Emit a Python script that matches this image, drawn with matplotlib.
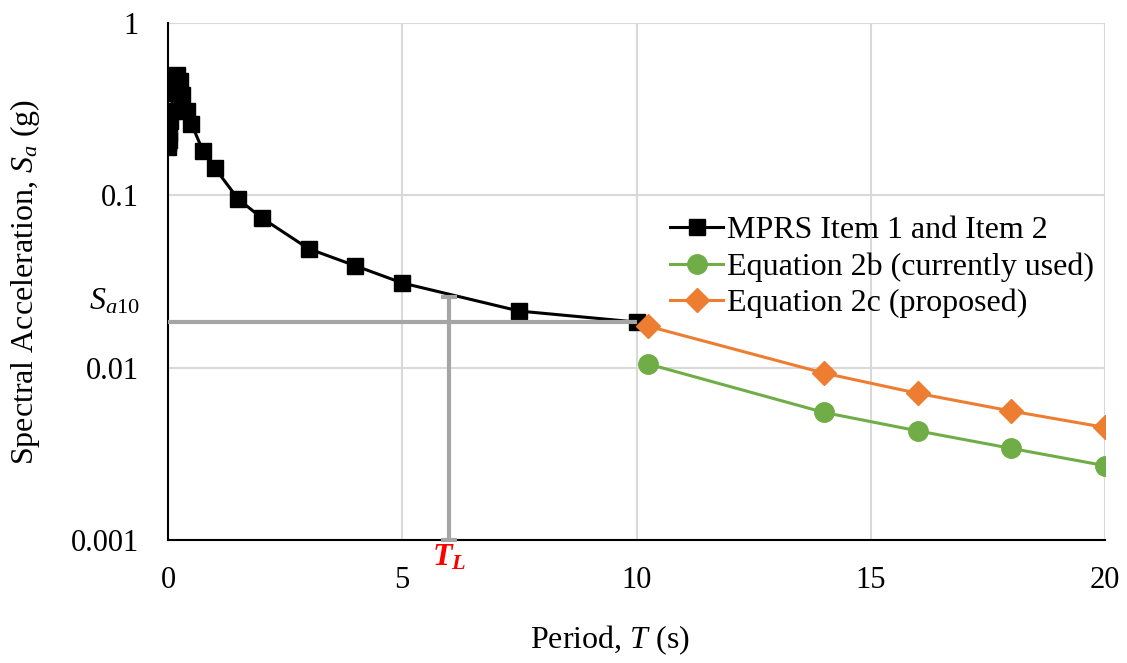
import numpy as np
import matplotlib
matplotlib.use("Agg")
import matplotlib.pyplot as plt

plt.rcParams['font.family'] = ['Liberation Serif', 'DejaVu Serif']
plt.rcParams['mathtext.fontset'] = 'custom'
plt.rcParams['mathtext.rm'] = 'Liberation Serif'
plt.rcParams['mathtext.it'] = 'Liberation Serif:italic'
plt.rcParams['mathtext.bf'] = 'Liberation Serif:bold'
plt.rcParams['mathtext.bfit'] = 'Liberation Serif:bold:italic'

# MPRS spectrum (Item 1 and Item 2)
period_mprs = [0.0, 0.01, 0.02, 0.03, 0.05, 0.075, 0.1, 0.15, 0.2, 0.25, 0.3, 0.4, 0.5,
               0.75, 1.0, 1.5, 2.0, 3.0, 4.0, 5.0, 7.5, 10.0]
sa_mprs = [0.19, 0.20, 0.21, 0.23, 0.27, 0.31, 0.39, 0.47, 0.50, 0.46, 0.38, 0.31, 0.26,
           0.18, 0.144, 0.095, 0.074, 0.049, 0.039, 0.031, 0.0213, 0.0184]

# long-period extrapolations
period_eq = [10.25, 14.0, 16.0, 18.0, 20.0]
sa_eq2b = [0.0105, 0.0055, 0.0043, 0.0034, 0.0027]
sa_eq2c = [0.0174, 0.0093, 0.0071, 0.0056, 0.0045]

T_L = 6.0
sa_TL = 0.0257
sa10 = sa_mprs[-1]

fig = plt.figure(figsize=(11.27, 6.63), dpi=100)
ax = fig.add_axes([168/1127, 1-540/663, (1105-168)/1127, (540-23)/663])

ax.plot(period_mprs, sa_mprs, color='black', lw=2.2, marker='s', ms=11.5,
        label='MPRS Item 1 and Item 2', zorder=3)
ax.plot(period_eq, sa_eq2b, color='#70ad47', lw=2.2, marker='o', ms=14,
        label='Equation 2b (currently used)', zorder=3)
ax.plot(period_eq, sa_eq2c, color='#ed7d31', lw=2.2, marker='D', ms=12,
        label='Equation 2c (proposed)', zorder=3)

# S_a10 and T_L guide lines
ax.errorbar([period_mprs[-1]], [sa10], xerr=[[period_mprs[-1]], [0]], fmt='none',
            ecolor='#a5a5a5', elinewidth=3, capsize=0, zorder=4, clip_on=False)
ax.errorbar([T_L], [sa_TL], yerr=[[sa_TL - 0.001], [0]], fmt='none',
            ecolor='#a5a5a5', elinewidth=3, capsize=6, capthick=3, zorder=4, clip_on=False)

ax.set_yscale('log')
ax.set_xlim(0, 20)
ax.set_ylim(0.001, 1)
ax.set_xticks([0, 5, 10, 15, 20])
ax.set_yticks([0.001, 0.01, 0.1, 1])
ax.set_yticklabels(['0.001', '0.01', '0.1', '1'])
ax.yaxis.set_minor_locator(matplotlib.ticker.NullLocator())
ax.tick_params(axis='both', length=0, labelsize=22)
ax.tick_params(axis='x', pad=19)
ax.tick_params(axis='y', pad=21)
ax.grid(True, color='#d9d9d9', lw=1.5, zorder=0)
ax.set_axisbelow(True)
for s in ['top', 'right']:
    ax.spines[s].set_visible(False)
for s in ['left', 'bottom']:
    ax.spines[s].set_linewidth(1.5)

ax.annotate(r'$S_{a\mathrm{10}}$', xy=(0, sa10), xycoords=ax.get_yaxis_transform(),
            xytext=(-20, 4), textcoords='offset points', ha='right', va='bottom', fontsize=23)
ax.annotate(r'$\mathbfit{T}_{\mathbfit{L}}$', xy=(T_L, 0.001), xytext=(0, -2),
            textcoords='offset points', ha='center', va='top', fontsize=23, color='red')

fig.text(610/1127, 1-640/663, r'Period, $\mathit{T}$ (s)', ha='center', va='center', fontsize=23)
fig.text(25/1127, 1-282/663, r'Spectral Acceleration, $S_a$ (g)', ha='center', va='center',
         rotation=90, fontsize=23)

ax.legend(loc='upper left', bbox_to_anchor=((670-168)/937, (540-216)/517), frameon=False,
          fontsize=23, handlelength=1.66, handletextpad=0.12, labelspacing=0.22,
          borderpad=0, borderaxespad=0)

fig.savefig('out.png', dpi=100)
